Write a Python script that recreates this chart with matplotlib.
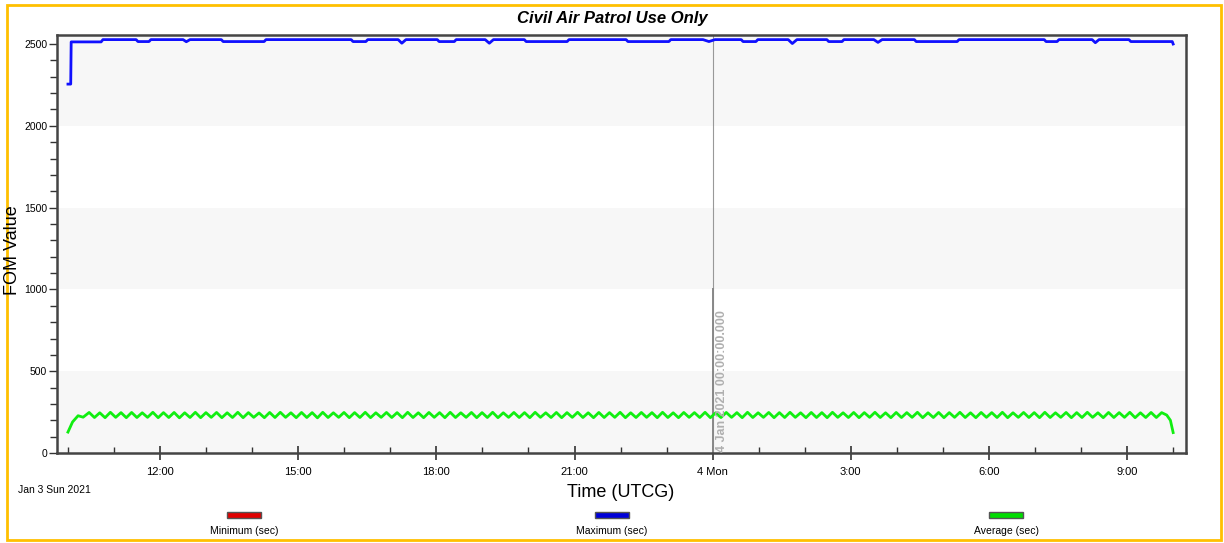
import numpy as np
import matplotlib.pyplot as plt
from matplotlib.patches import Rectangle

plt.rcParams['font.family'] = ['Liberation Sans', 'DejaVu Sans']

# time axis is hours since Jan 3 2021 00:00 UTCG
tick_hours = [12, 15, 18, 21, 24, 27, 30, 33]
tick_labels = ["12:00", "15:00", "18:00", "21:00", "4 Mon", "3:00", "6:00", "9:00"]

# Maximum (sec): mostly flat with small dips
max_t = [10.0, 10.06, 10.07, 10.72, 10.76, 11.48, 11.52, 11.76, 11.80, 12.50, 12.57, 12.65,
         13.33, 13.37, 14.26, 14.30, 16.15, 16.19, 16.47, 16.51, 17.17, 17.25, 17.34,
         18.02, 18.06, 18.39, 18.43, 19.06, 19.15, 19.24, 19.91, 19.95, 20.84, 20.88,
         22.12, 22.16, 23.05, 23.09, 23.79, 23.92, 24.05, 24.62, 24.66, 24.94, 24.98,
         25.64, 25.73, 25.83, 26.48, 26.52, 26.81, 26.85, 27.50, 27.59, 27.68,
         28.38, 28.42, 29.31, 29.35, 31.20, 31.24, 31.48, 31.52, 32.24, 32.31, 32.39,
         33.04, 33.08, 33.98, 34.0]
max_v = [2255, 2255, 2513, 2513, 2527, 2527, 2515, 2515, 2527, 2527, 2514, 2527,
         2527, 2515, 2515, 2527, 2527, 2515, 2515, 2527, 2527, 2505, 2527,
         2527, 2515, 2515, 2527, 2527, 2505, 2527, 2527, 2515, 2515, 2527,
         2527, 2515, 2515, 2527, 2527, 2515, 2527, 2527, 2515, 2515, 2527,
         2527, 2503, 2527, 2527, 2515, 2515, 2527, 2527, 2510, 2527,
         2527, 2515, 2515, 2527, 2527, 2515, 2515, 2527, 2527, 2508, 2527,
         2527, 2515, 2515, 2500]

# Average (sec): ramp-up, steady ripple, ramp-down
avg_head_t = [10.0, 10.1, 10.22, 10.33]
avg_head_v = [128, 190, 228, 219]
avg_ripple = [
    248, 217, 246, 216, 249, 218, 247, 216, 248, 217, 246, 218, 249, 216, 247, 217, 248, 215, 246, 217,
    249, 216, 247, 218, 248, 216, 246, 217, 249, 216, 247, 218, 245, 216, 248, 217, 249, 218, 246, 216,
    248, 217, 247, 215, 249, 217, 246, 218, 248, 216, 247, 217, 249, 216, 246, 218, 248, 217, 247, 216,
    249, 217, 246, 216, 248, 218, 247, 216, 249, 217, 246, 218, 248, 216, 247, 217, 249, 216, 246, 218,
    248, 217, 247, 216, 249, 218, 246, 217, 248, 216, 247, 218, 249, 217, 246, 216, 248, 217, 247, 218,
    249, 216, 246, 217, 248, 218, 247, 216, 249, 217, 246, 216, 248, 218, 247, 217, 249, 216, 246, 217,
    248, 218, 247, 216, 249, 217, 246, 218, 248, 216, 247, 217, 249, 218, 246, 216, 248, 217, 247, 216,
    249, 218, 246, 217, 248, 216, 247, 218, 249, 217, 246, 216, 248, 217, 247, 218, 249, 216, 246, 217,
    248, 216, 247, 218, 249, 217, 246, 216, 248, 218, 247, 217, 249, 216, 246, 218, 248, 217, 247, 216,
    249, 217, 246, 218, 248, 216, 247, 217, 249, 218, 246, 216, 248, 217, 247, 218, 249, 216, 246, 217,
    248, 217, 247]
avg_tail_t = [33.86, 33.94, 34.0]
avg_tail_v = [232, 200, 125]

legend_names = ["Minimum (sec)", "Maximum (sec)", "Average (sec)"]
legend_colors = ["#e00000", "#0000d8", "#00dd00"]

avg_t = np.concatenate([avg_head_t, np.linspace(10.46, 33.75, len(avg_ripple)), avg_tail_t])
avg_v = np.concatenate([avg_head_v, avg_ripple, avg_tail_v])

fig = plt.figure(figsize=(12.24, 5.43), dpi=100)
ax = fig.add_axes([0.0466, 0.1657, 0.9224, 0.7698])

# alternating background bands
for lo, hi in [(0, 500), (1000, 1500), (2000, 2600)]:
    ax.axhspan(lo, hi, color="#f7f7f7", zorder=0, lw=0)

ax.plot(max_t, max_v, color="#1010ff", lw=2.0, zorder=3, solid_joinstyle="round")
ax.plot(avg_t, avg_v, color="#11ee11", lw=2.0, zorder=3, solid_joinstyle="round")

# midnight marker
ax.axvline(24, color="#999999", lw=0.8, zorder=2)
ax.plot([24, 24], [0, 1000], color="#888888", lw=1.4, zorder=2)
ax.text(24.08, 8, "4 Jan 2021 00:00:00.000", rotation=90, ha="left", va="bottom",
        fontsize=9, fontweight="bold", color="#b0b0b0", zorder=4)

ax.set_xlim(9.763, 34.28)
ax.set_ylim(0, 2555)
ax.set_xticks(tick_hours)
ax.set_xticklabels(tick_labels, fontsize=8)
ax.set_xticks(range(10, 35), minor=True)
ax.set_yticks(range(0, 2501, 500))
ax.set_yticks(range(0, 2501, 100), minor=True)
ax.tick_params(axis="y", which="major", direction="out", length=6, width=1, pad=1,
               labelsize=7.5, color="#333333")
ax.tick_params(axis="y", which="minor", direction="out", length=5, width=1, color="#333333")
ax.tick_params(axis="x", which="major", direction="inout", length=10, width=1.2, pad=5, color="#333333")
ax.tick_params(axis="x", which="minor", direction="in", length=4, width=1, color="#333333")
for sp in ax.spines.values():
    sp.set_color("#444444")
    sp.set_linewidth(1.8)

fig.text(0.5, 0.966, "Civil Air Patrol Use Only", ha="center", va="center",
         fontsize=12, fontweight="bold", fontstyle="italic")
fig.text(0.0105, 0.54, "FOM Value", rotation=90, ha="center", va="center", fontsize=13)
fig.text(0.507, 0.093, "Time (UTCG)", ha="center", va="center", fontsize=13)
fig.text(0.015, 0.097, "Jan 3 Sun 2021", ha="left", va="center", fontsize=7.5)

# legend swatches
for cx, name, col in zip([244, 612, 1006], legend_names, legend_colors):
    fig.patches.append(Rectangle(((cx - 17) / 1224, 1 - 518 / 543), 34 / 1224, 6 / 543,
                                 transform=fig.transFigure, facecolor=col,
                                 edgecolor="#555555", lw=1))
    fig.text(cx / 1224, 1 - 531 / 543, name, ha="center", va="center", fontsize=7.5)

# orange outer frame
fig.patches.append(Rectangle((7 / 1224, 3 / 543), 1214 / 1224, 535 / 543,
                             transform=fig.transFigure, fill=False,
                             edgecolor="#ffc000", lw=2))

fig.savefig("out.png", dpi=100)
